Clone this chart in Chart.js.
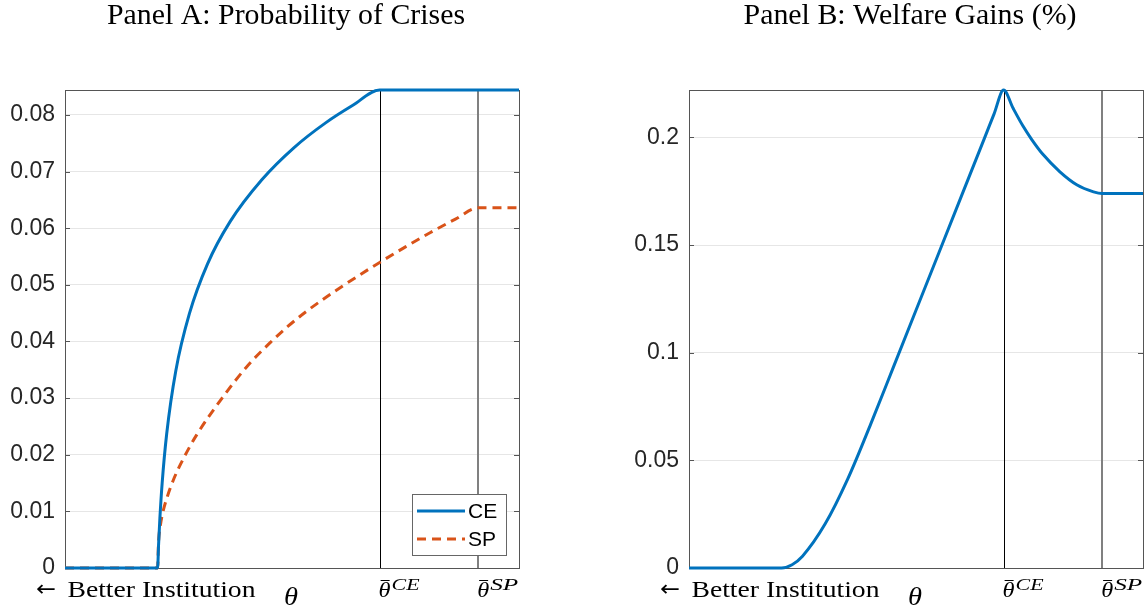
<!DOCTYPE html>
<html>
<head>
<meta charset="utf-8">
<script src="https://cdn.jsdelivr.net/npm/chart.js@4.4.0/dist/chart.umd.min.js"></script>
<style>
  html, body { margin: 0; padding: 0; background: #fff; width: 1146px; height: 609px; overflow: hidden; }
  .panel { position: absolute; top: 0; width: 573px; height: 609px; }
  #wrapA { left: 0; }
  #wrapB { left: 573px; }
</style>
</head>
<body>
<div class="panel" id="wrapA"><canvas id="chartA"></canvas></div>
<div class="panel" id="wrapB"><canvas id="chartB"></canvas></div>
<script>
'use strict';

// ── Data (theta normalised to 0..1 along the axis) ──────────────────────────
var thetaBarCE = 0.693;
var thetaBarSP = 0.91;

// Panel A – probability of crises, competitive equilibrium
var thetaCE = [0, 0.204, 0.206, 0.209, 0.214, 0.224, 0.244, 0.274, 0.314, 0.364, 0.434, 0.504, 0.574, 0.634, 0.693, 1.0];
var probCE  = [0, 0,     0.0039, 0.0088, 0.0150, 0.0237, 0.0348, 0.0449, 0.0537, 0.0612, 0.0686, 0.0742, 0.0786, 0.0817, 0.0844, 0.0844];

// Panel A – probability of crises, social planner
var thetaSP = [0, 0.204, 0.206, 0.210, 0.216, 0.225, 0.240, 0.262, 0.290, 0.346, 0.400, 0.452, 0.490, 0.530, 0.606, 0.694, 0.750, 0.804, 0.860, 0.910, 1.0];
var probSP  = [0, 0,     0.0045, 0.0075, 0.0100, 0.0125, 0.0158, 0.0195, 0.0235, 0.0300, 0.0355, 0.0398, 0.0426, 0.0452, 0.0495, 0.0540, 0.0567, 0.0592, 0.0616, 0.0636, 0.0636];

// Panel B – welfare gains (%)
var thetaWG = [0, 0.204, 0.227, 0.25, 0.30, 0.35, 0.40, 0.45, 0.50, 0.55, 0.60, 0.65, 0.672, 0.693, 0.714, 0.735, 0.755, 0.78, 0.817, 0.854, 0.891, 0.91, 1.0];
var gainWG  = [0, 0,     0.0015, 0.0055, 0.0205, 0.0415, 0.0667, 0.0932, 0.1197, 0.1462, 0.1727, 0.1992, 0.2109, 0.222, 0.2135, 0.2055, 0.199, 0.192, 0.184, 0.178, 0.1747, 0.1739, 0.1739];

// Axis ticks
var ticksA = [0, 0.01, 0.02, 0.03, 0.04, 0.05, 0.06, 0.07, 0.08];
var ticksB = [0, 0.05, 0.1, 0.15, 0.2];

var titleA = 'Panel A: Probability of Crises';
var titleB = 'Panel B: Welfare Gains (%)';
var leftLabel = 'Better Institution';

var BLUE = '#0072BD';
var ORANGE = '#D95319';
var AXIS = '#555555';
var TEXT = '#262626';

function pts(xs, ys) {
  return xs.map(function (x, i) { return { x: x, y: ys[i] }; });
}

// draw text from its left edge, stretched horizontally to a given width
function fitText(ctx, txt, left, base, width) {
  var w = ctx.measureText(txt).width;
  ctx.save();
  ctx.translate(left, base);
  ctx.scale(width / w, 1);
  ctx.textAlign = 'left';
  ctx.fillText(txt, 0, 0);
  ctx.restore();
}

// ── Decorations: box, inward ticks, theta-bar lines, texts, legend ──────────
var deco = {
  id: 'panelDeco',
  beforeDatasetsDraw: function (chart, args, o) {
    var ctx = chart.ctx, a = chart.chartArea;
    var xs = chart.scales.x, ys = chart.scales.y;
    ctx.save();
    // theta-bar reference lines
    var xc = Math.round(xs.getPixelForValue(thetaBarCE)) + 0.5;
    ctx.strokeStyle = '#000';
    ctx.lineWidth = 1;
    ctx.beginPath(); ctx.moveTo(xc, a.top); ctx.lineTo(xc, a.bottom); ctx.stroke();
    var xp = Math.round(xs.getPixelForValue(thetaBarSP));
    ctx.strokeStyle = '#808080';
    ctx.lineWidth = 2;
    ctx.beginPath(); ctx.moveTo(xp, a.top); ctx.lineTo(xp, a.bottom); ctx.stroke();
    // box
    ctx.strokeStyle = AXIS;
    ctx.lineWidth = 1;
    ctx.strokeRect(Math.round(a.left) + 0.5, Math.round(a.top) + 0.5,
      Math.round(a.right - a.left), Math.round(a.bottom - a.top));
    // inward ticks on both sides
    o.yTicks.forEach(function (v) {
      var y = Math.round(ys.getPixelForValue(v)) + 0.5;
      ctx.beginPath();
      ctx.moveTo(a.left, y); ctx.lineTo(a.left + 5, y);
      ctx.moveTo(a.right, y); ctx.lineTo(a.right - 5, y);
      ctx.stroke();
    });
    ctx.restore();
  },
  afterDraw: function (chart, args, o) {
    var ctx = chart.ctx, a = chart.chartArea;
    var xs = chart.scales.x;
    var cx = (a.left + a.right) / 2;
    ctx.save();
    ctx.fillStyle = '#000';
    ctx.textBaseline = 'alphabetic';
    // title
    ctx.font = '30px "Liberation Serif"';
    fitText(ctx, o.title, cx - 6 - o.titleW / 2, 24, o.titleW);
    // left x label: arrow + text
    ctx.font = '22px "DejaVu Sans"';
    fitText(ctx, '\u2190', a.left - 29, 596, 20);
    ctx.font = '24px "Liberation Serif"';
    fitText(ctx, leftLabel, a.left + 2.5, 597, 188);
    // axis name
    ctx.font = 'italic 25px "Liberation Serif"';
    fitText(ctx, '\u03B8', cx - 8, 605, 14);
    // theta-bar tick labels
    [[thetaBarCE, 'CE'], [thetaBarSP, 'SP']].forEach(function (t) {
      var x = xs.getPixelForValue(t[0]);
      ctx.font = 'italic 22px "Liberation Serif"';
      fitText(ctx, '\u03B8', x - 1, 597, 12);
      ctx.strokeStyle = '#000';
      ctx.lineWidth = 1;
      ctx.beginPath(); ctx.moveTo(x + 1, 580.5); ctx.lineTo(x + 10, 580.5); ctx.stroke();
      ctx.font = 'italic 17px "Liberation Serif"';
      fitText(ctx, t[1], x + 12, 590, 28);
    });
    // legend (panel A only)
    if (o.legend) {
      var L = 412, T = 494, W = 94, H = 61;
      ctx.fillStyle = '#fff';
      ctx.fillRect(L, T, W, H);
      ctx.strokeStyle = '#666';
      ctx.lineWidth = 1;
      ctx.strokeRect(L + 0.5, T + 0.5, W, H);
      chart.data.datasets.forEach(function (ds, i) {
        var y = T + 17 + i * 28;
        ctx.strokeStyle = ds.borderColor;
        ctx.lineWidth = ds.borderWidth;
        ctx.setLineDash(ds.borderDash || []);
        ctx.beginPath(); ctx.moveTo(L + 5, y); ctx.lineTo(L + 53, y); ctx.stroke();
        ctx.setLineDash([]);
        ctx.fillStyle = '#000';
        ctx.font = '21px "Liberation Sans"';
        ctx.textAlign = 'left';
        ctx.textBaseline = 'middle';
        ctx.fillText(ds.label, L + 56, y + 1);
      });
    }
    ctx.restore();
  }
};

function makePanel(canvasId, datasets, o) {
  return new Chart(document.getElementById(canvasId), {
    type: 'line',
    data: { datasets: datasets },
    options: {
      responsive: true,
      maintainAspectRatio: false,
      animation: false,
      layout: { padding: { left: 0, right: o.padR, top: 90, bottom: 0 } },
      plugins: {
        legend: { display: false },
        tooltip: { enabled: false },
        panelDeco: o
      },
      elements: { point: { radius: 0 } },
      scales: {
        x: {
          type: 'linear', min: 0, max: 1,
          grid: { display: false },
          border: { display: false },
          ticks: { display: false },
          afterFit: function (s) { s.height = 41; }
        },
        y: {
          type: 'linear', min: 0, max: o.yMax,
          afterBuildTicks: function (s) {
            s.ticks = o.yTicks.map(function (v) { return { value: v }; });
          },
          grid: { color: '#e6e6e6', drawTicks: false },
          border: { display: false },
          ticks: {
            padding: 10,
            color: TEXT,
            font: { family: 'Liberation Sans', size: 23 },
            callback: function (v) { return String(+v.toFixed(3)); }
          },
          afterFit: function (s) { s.width = o.axisW; }
        }
      }
    },
    plugins: [deco]
  });
}

makePanel('chartA', [
  {
    label: 'CE', data: pts(thetaCE, probCE),
    borderColor: BLUE, borderWidth: 3, fill: false,
    cubicInterpolationMode: 'monotone', clip: 4
  },
  {
    label: 'SP', data: pts(thetaSP, probSP),
    borderColor: ORANGE, borderWidth: 3, borderDash: [9, 6], fill: false,
    cubicInterpolationMode: 'monotone', clip: 4
  }
], { title: titleA, titleW: 358, yMax: 0.0844, yTicks: ticksA, axisW: 65, padR: 54, legend: true });

makePanel('chartB', [
  {
    label: 'CE', data: pts(thetaWG, gainWG),
    borderColor: BLUE, borderWidth: 3, fill: false,
    cubicInterpolationMode: 'monotone', clip: 4
  }
], { title: titleB, titleW: 333, yMax: 0.222, yTicks: ticksB, axisW: 116, padR: 3, legend: false });
</script>
</body>
</html>
